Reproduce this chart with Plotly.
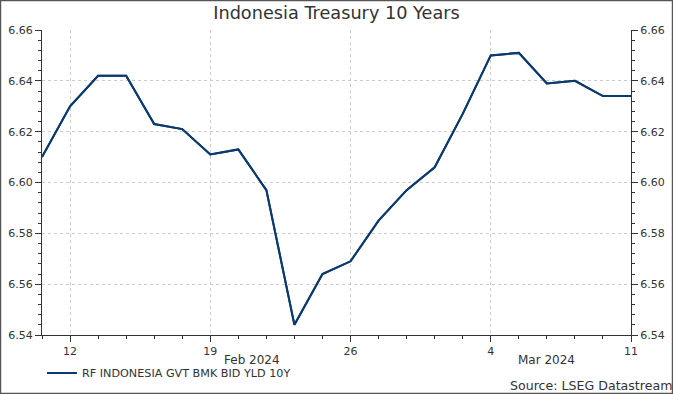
import plotly.graph_objects as go

dates = ["2024-02-09", "2024-02-12", "2024-02-13", "2024-02-14", "2024-02-15", "2024-02-16",
         "2024-02-19", "2024-02-20", "2024-02-21", "2024-02-22", "2024-02-23",
         "2024-02-26", "2024-02-27", "2024-02-28", "2024-02-29", "2024-03-01",
         "2024-03-04", "2024-03-05", "2024-03-06", "2024-03-07", "2024-03-08", "2024-03-11"]
yields = [6.610, 6.630, 6.642, 6.642, 6.623, 6.621,
          6.611, 6.613, 6.597, 6.544, 6.564,
          6.569, 6.585, 6.597, 6.606, 6.627,
          6.650, 6.651, 6.639, 6.640, 6.634, 6.634]
tick_dates = ["2024-02-12", "2024-02-19", "2024-02-26", "2024-03-04", "2024-03-11"]
tick_labels = ["12", "19", "26", "4", "11"]
series_name = "RF INDONESIA GVT BMK BID YLD 10Y"
title_text = "Indonesia Treasury 10 Years"
source_text = "Source: LSEG Datastream"

LINE = "#0b3a6e"
GRID = "#cccccc"
AX = "#333333"
FONT = "DejaVu Sans, Verdana, sans-serif"

fig = go.Figure()
fig.add_trace(go.Scatter(x=dates, y=yields, mode="lines", name=series_name,
                         line=dict(color=LINE, width=2), yaxis="y"))
fig.add_trace(go.Scatter(x=dates, y=yields, mode="lines", name=series_name,
                         line=dict(color=LINE, width=2), yaxis="y2", showlegend=False,
                         hoverinfo="skip"))

yax = dict(range=[6.54, 6.66], dtick=0.02, tick0=6.54, tickformat=".2f",
           ticks="outside", ticklen=6, tickwidth=1, tickcolor=AX, automargin=False,
           showline=True, linecolor=AX, linewidth=1,
           showgrid=True, gridcolor=GRID, griddash="dot", gridwidth=1,
           zeroline=False, tickfont=dict(family=FONT, size=11, color=AX),
           minor=dict(dtick=0.004, tick0=6.54, ticks="outside", ticklen=3,
                      tickcolor=AX, showgrid=False))

fig.update_layout(
    width=673, height=394,
    margin=dict(l=42, r=42, t=30, b=59, autoexpand=False),
    paper_bgcolor="white", plot_bgcolor="white",
    font=dict(family=FONT, color=AX),
    title=dict(text=title_text, x=0.5, xanchor="center", y=0.967, yanchor="middle",
               font=dict(family=FONT, size=17.7, color="#333333"), automargin=False),
    xaxis=dict(type="date", range=["2024-02-09", "2024-03-11"],
               rangebreaks=[dict(bounds=["sat", "mon"])], automargin=False,
               tickmode="array", tickvals=tick_dates, ticktext=tick_labels,
               ticks="outside", ticklen=6, tickcolor=AX,
               showline=True, linecolor=AX, linewidth=1,
               showgrid=True, gridcolor=GRID, griddash="dot",
               zeroline=False, tickfont=dict(family=FONT, size=11, color=AX),
               minor=dict(tickmode="array", tickvals=dates, ticks="outside", ticklen=3,
                          tickcolor=AX, showgrid=False)),
    yaxis=yax,
    yaxis2=dict(yax, overlaying="y", side="right", matches="y", showgrid=False),
    showlegend=True,
    legend=dict(orientation="h", x=0.0, xanchor="left", y=-0.1246, yanchor="middle",
                itemwidth=30,
                font=dict(family=FONT, size=11.2, color=AX), bgcolor="rgba(0,0,0,0)"),
    annotations=[
        dict(text="Feb 2024", x="2024-02-20 12:00", xref="x", y=-0.082, yref="paper",
             showarrow=False, xanchor="center", yanchor="middle",
             font=dict(family=FONT, size=12, color=AX)),
        dict(text="Mar 2024", x="2024-03-06", xref="x", y=-0.082, yref="paper",
             showarrow=False, xanchor="center", yanchor="middle",
             font=dict(family=FONT, size=12, color=AX)),
        dict(text=source_text, x=1.073, xref="paper", y=-0.167, yref="paper",
             showarrow=False, xanchor="right", yanchor="middle",
             font=dict(family=FONT, size=12.6, color=AX)),
    ],
    shapes=[dict(type="rect", xref="paper", yref="paper",
                 x0=-0.0705, x1=1.0705, y0=-0.1918, y1=1.0967,
                 line=dict(color="#555555", width=1.5))],
)

fig.write_html("out.html", config={"displayModeBar": False},
               post_script="document.body.style.margin='0';document.body.style.overflow='hidden';")
